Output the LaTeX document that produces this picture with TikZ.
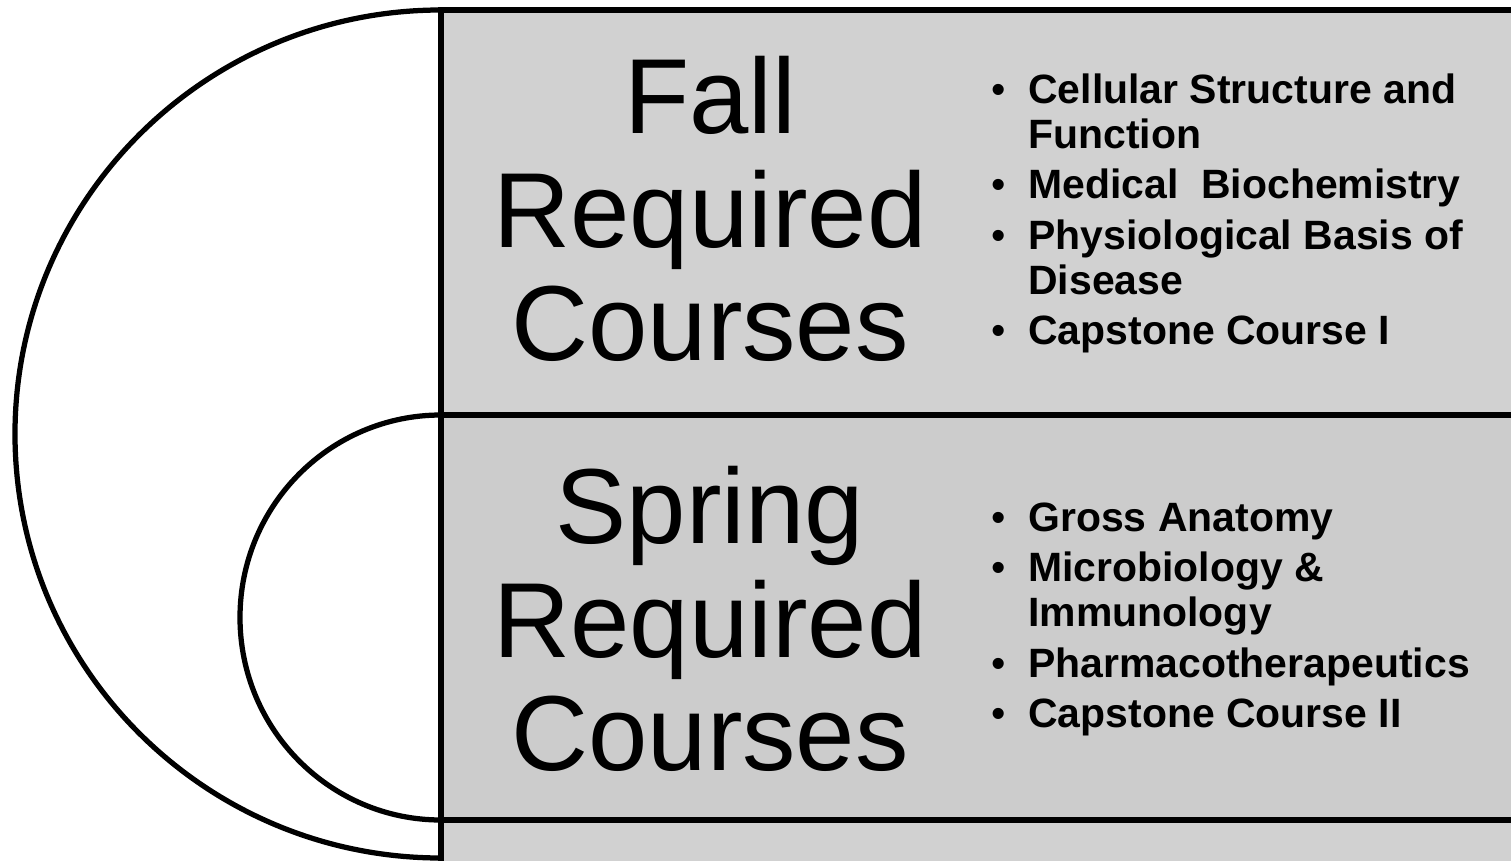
\documentclass[tikz,border=0pt]{standalone}
\usepackage{fontspec}
\setmainfont{Liberation Sans}
\usepackage{tikz}
\usetikzlibrary{positioning}
\definecolor{panelgray}{gray}{0.82}
\definecolor{panelgray2}{gray}{0.80}
\tikzstyle{panel} = [rectangle, draw=black, line width=1.05mm, fill=panelgray, minimum width=218mm, minimum height=81mm, inner sep=0pt, outer sep=0pt, anchor=north west]
\tikzstyle{title} = [align=center, inner sep=0pt, font=\fontsize{60.7}{64.6}\selectfont]
\tikzstyle{list} = [align=left, anchor=west, inner sep=0pt, font=\fontsize{23.3}{25.5}\selectfont\bfseries]
\tikzstyle{arcline} = [line width=1.05mm]
\newcommand{\itm}{\makebox[7.4mm][l]{\mdseries\textbullet}}
\newcommand{\ind}{\hspace*{7.4mm}}

\begin{document}
\begin{tikzpicture}[x=0.2mm, y=0.2mm]
	\useasboundingbox (0,0) rectangle (1511,861);
	\clip (0,0) rectangle (1511,861);
	\node (fall) [panel] at (441,851) {};
	\node (spring) [panel, fill=panelgray2, below=0pt of fall] {};
	\node (next) [panel, below=0pt of spring] {};

	\node (falltitle) [title] at (710,652) {Fall\\Required\\Courses};
	\node (springtitle) [title] at (710,242) {Spring\\Required\\Courses};

	\node (falllist) [list] at (991,647.5) {\itm Cellular Structure and\\\ind Function\\[1.1mm]\itm Medical\ \ Biochemistry\\[1.1mm]\itm Physiological Basis of\\\ind Disease\\[1.1mm]\itm Capstone Course I};
	\node (springlist) [list] at (991,241.5) {\itm Gross Anatomy\\[1.1mm]\itm Microbiology \&\\\ind Immunology\\[1.1mm]\itm Pharmacotherapeutics\\[1.1mm]\itm Capstone Course II};

	\draw [arcline] (fall.north west) arc[start angle=90, end angle=270, x radius=85.2mm, y radius=84.8mm];
	\draw [arcline] (spring.north west) arc[start angle=90, end angle=270, x radius=40.2mm, y radius=40.5mm];
\end{tikzpicture}
\end{document}
